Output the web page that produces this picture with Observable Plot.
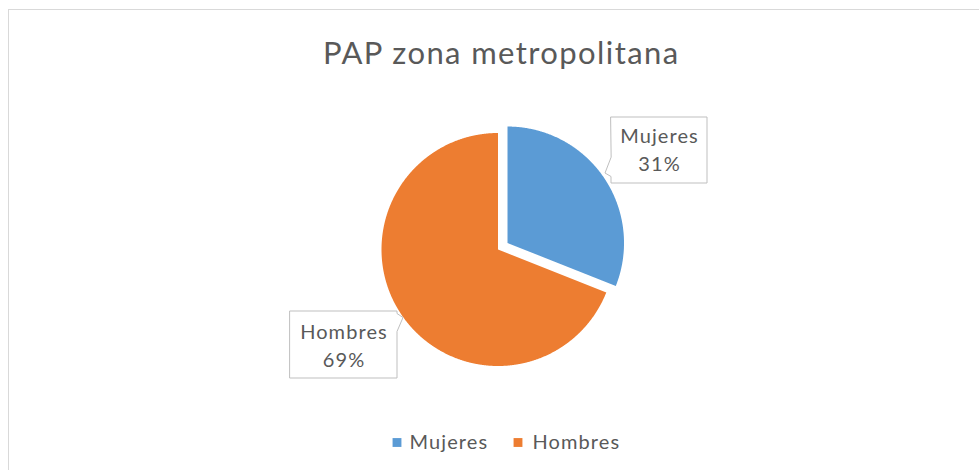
<!DOCTYPE html>
<html><head><meta charset="utf-8">
<script src="https://cdn.jsdelivr.net/npm/d3@7"></script>
<script src="https://cdn.jsdelivr.net/npm/@observablehq/plot@0.6"></script>
<style>
html,body{margin:0;padding:0;background:#fff;overflow:hidden}
#wrap{position:relative;width:979px;height:470px;overflow:hidden}
#frame{position:absolute;left:8px;top:9px;width:1000px;height:1000px;border:1px solid #D9D9D9;box-sizing:border-box}
#chart{position:absolute;left:0;top:0}
</style></head><body>
<div id="wrap"><div id="frame"></div><div id="chart"></div></div>
<script>
// ---- data ----
const title = "PAP zona metropolitana";
const categories = ["Mujeres", "Hombres"];
const values = [31, 69];
const colors = ["#5B9BD5", "#ED7D31"];

// ---- layout ----
const W = 979, H = 470;
const cx = 497.5, cy = 249, R = 116.5, explode = 11.5;
const textColor = "#595959";
const font = "Lato, 'Open Sans', sans-serif";

const total = d3.sum(values);
const arcs = d3.pie().sort(null).value(d => d)(values);

// slice polygons derived from the pie layout
const slicePts = [];
arcs.forEach((a, i) => {
  const mid = (a.startAngle + a.endAngle) / 2;
  const off = i === 0 ? explode : 0;
  const ox = cx + off * Math.sin(mid), oy = cy - off * Math.cos(mid);
  slicePts.push({cat: categories[i], x: ox, y: oy});
  const n = Math.max(2, Math.ceil((a.endAngle - a.startAngle) / 0.005));
  for (let k = 0; k <= n; k++) {
    const t = a.startAngle + (a.endAngle - a.startAngle) * k / n;
    slicePts.push({cat: categories[i], x: ox + R * Math.sin(t), y: oy - R * Math.cos(t)});
  }
});

// callout boxes (layout)
const callouts = {
  Mujeres: {x0: 610.5, y0: 116.5, x1: 706.5, y1: 182.5, side: "left", p0: 157, p1: 176, tip: [604.5, 172.5], tx: 659, ty: 170},
  Hombres: {x0: 289.5, y0: 310.5, x1: 396.5, y1: 377.5, side: "right", p0: 313, p1: 331, tip: [402.5, 317], tx: 343.5, ty: 366}
};
const boxPts = [];
categories.forEach(c => {
  const b = callouts[c];
  let pts;
  if (b.side === "left") {
    pts = [[b.x0, b.y0], [b.x1, b.y0], [b.x1, b.y1], [b.x0, b.y1], [b.x0, b.p1], b.tip, [b.x0, b.p0]];
  } else {
    pts = [[b.x0, b.y0], [b.x1, b.y0], [b.x1, b.p0], b.tip, [b.x1, b.p1], [b.x1, b.y1], [b.x0, b.y1]];
  }
  pts.forEach(p => boxPts.push({cat: c, x: p[0], y: p[1]}));
});

const labelData = arcs.map((a, i) => ({
  cat: categories[i],
  text: categories[i] + "\n" + Math.round(values[i] / total * 100) + "%",
  x: callouts[categories[i]].tx,
  y: callouts[categories[i]].ty
}));

const legendSq = [396.5, 517.5];
const legendTx = [409, 532];
const legendData = categories.map((c, i) => ({cat: c, sx: legendSq[i], tx: legendTx[i], sy: 442, ty: 448}));

const titleData = [{text: title, x: 500.7, y: 63}];

const chart = Plot.plot({
  width: W, height: H,
  margin: 0,
  x: {domain: [0, W], range: [0, W], axis: null},
  y: {domain: [0, H], range: [0, H], axis: null},
  color: {domain: categories, range: colors},
  style: {background: "transparent", fontFamily: font, color: textColor, overflow: "visible"},
  marks: [
    Plot.line(slicePts, {x: "x", y: "y", z: "cat", fill: "cat", stroke: "none", curve: "linear-closed"}),
    Plot.line(boxPts, {x: "x", y: "y", z: "cat", fill: "white", stroke: "#BFBFBF", strokeWidth: 1, curve: "linear-closed"}),
    Plot.text(labelData, {x: "x", y: "y", text: "text", fontSize: 20, lineHeight: 1.38, lineAnchor: "bottom", fill: textColor}),
    Plot.text(titleData, {x: "x", y: "y", text: "text", fontSize: 31, lineAnchor: "bottom", fill: textColor}),
    Plot.dot(legendData, {x: "sx", y: "sy", symbol: "square", r: 5, fill: "cat", stroke: "none"}),
    Plot.text(legendData, {x: "tx", y: "ty", text: "cat", textAnchor: "start", fontSize: 20, lineAnchor: "bottom", fill: textColor})
  ]
});
// letter spacing to approximate the wider original typeface
const textGroups = chart.querySelectorAll('g[aria-label="text"]');
const spacing = ["1.1px", "1.4px", "1.1px"];
textGroups.forEach((g, i) => g.style.letterSpacing = spacing[i] || "1px");
document.getElementById("chart").appendChild(chart);
</script>
</body></html>
